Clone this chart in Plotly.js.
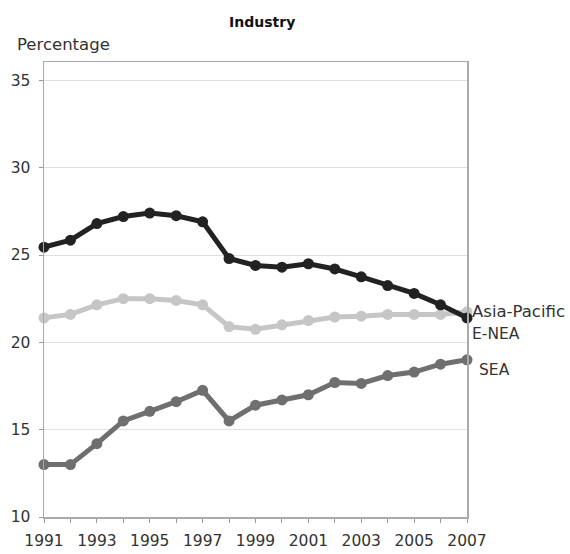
<!DOCTYPE html>
<html>
<head>
<meta charset="utf-8">
<script src="https://cdn.plot.ly/plotly-3.0.1.min.js"></script>
<style>html,body{margin:0;padding:0;background:#fff;}#chart{width:570px;height:554px;}</style>
</head>
<body>
<div id="chart"></div>
<script>
const years = [1991,1992,1993,1994,1995,1996,1997,1998,1999,2000,2001,2002,2003,2004,2005,2006,2007];
const eneaValues = [25.45,25.85,26.8,27.2,27.4,27.25,26.9,24.8,24.4,24.3,24.5,24.2,23.75,23.25,22.8,22.15,21.4];
const asiaPacificValues = [21.4,21.6,22.15,22.5,22.5,22.4,22.15,20.9,20.75,21.0,21.25,21.45,21.5,21.6,21.6,21.6,21.75];
const seaValues = [13.0,13.0,14.2,15.5,16.05,16.6,17.25,15.5,16.4,16.7,17.0,17.7,17.65,18.1,18.3,18.75,19.0];
const xTickLabels = ['1991','','1993','','1995','','1997','','1999','','2001','','2003','','2005','','2007'];
const seriesNames = ['Asia-Pacific','E-NEA','SEA'];

const font = 'DejaVu Sans, sans-serif';

function mk(y, color, name) {
  return {
    x: years, y: y, name: name, type: 'scatter', mode: 'lines+markers',
    line: {color: color, width: 5},
    marker: {color: color, size: 11},
    cliponaxis: false, hoverinfo: 'skip'
  };
}

const data = [
  mk(asiaPacificValues, '#c6c6c6', seriesNames[0]),
  mk(seaValues, '#6f6f6f', seriesNames[2]),
  mk(eneaValues, '#222222', seriesNames[1])
];

const layout = {
  width: 570, height: 554,
  margin: {l: 43.5, r: 103, t: 62, b: 37},
  paper_bgcolor: '#fff', plot_bgcolor: '#fff',
  showlegend: false,
  font: {family: font, color: '#333', size: 15},
  title: {text: '<b>Industry</b>', font: {family: font, size: 14, color: '#111'}, x: 0.46, xanchor: 'center', y: 0.96, yanchor: 'middle'},
  xaxis: {
    range: [1991, 2007], tickmode: 'array', tickvals: years, ticktext: xTickLabels,
    ticks: 'outside', ticklen: 4, tickcolor: '#999', tickwidth: 1,
    ticklabelstandoff: 5,
    showline: true, linecolor: '#aaa', linewidth: 1.5, mirror: true,
    showgrid: false, zeroline: false,
    tickfont: {family: font, size: 15.5, color: '#333'}
  },
  yaxis: {
    range: [10, 36.05], tickvals: [10,15,20,25,30,35],
    ticks: 'outside', ticklen: 4, tickcolor: '#999', tickwidth: 1,
    ticklabelstandoff: 5,
    showline: true, linecolor: '#aaa', linewidth: 1.5, mirror: true,
    showgrid: true, gridcolor: '#e0e0e0', gridwidth: 1, zeroline: false,
    tickfont: {family: font, size: 15.5, color: '#333'}
  },
  annotations: [
    {text: 'Percentage', xref: 'paper', yref: 'paper', x: -0.068, y: 1.0, yshift: 18, xanchor: 'left', yanchor: 'middle', showarrow: false, font: {family: font, size: 16.5, color: '#333'}},
    {text: seriesNames[0], xref: 'x', yref: 'y', x: 2007, y: asiaPacificValues[16], xshift: 3, yshift: 0, xanchor: 'left', yanchor: 'middle', showarrow: false, font: {family: font, size: 16.5, color: '#333'}},
    {text: seriesNames[1], xref: 'x', yref: 'y', x: 2007, y: eneaValues[16], xshift: 3, yshift: -16, xanchor: 'left', yanchor: 'middle', showarrow: false, font: {family: font, size: 15.5, color: '#333'}},
    {text: seriesNames[2], xref: 'x', yref: 'y', x: 2007, y: seaValues[16], xshift: 10, yshift: -10, xanchor: 'left', yanchor: 'middle', showarrow: false, font: {family: font, size: 15.5, color: '#333'}}
  ]
};

Plotly.newPlot('chart', data, layout, {displayModeBar: false, staticPlot: true});
</script>
</body>
</html>
